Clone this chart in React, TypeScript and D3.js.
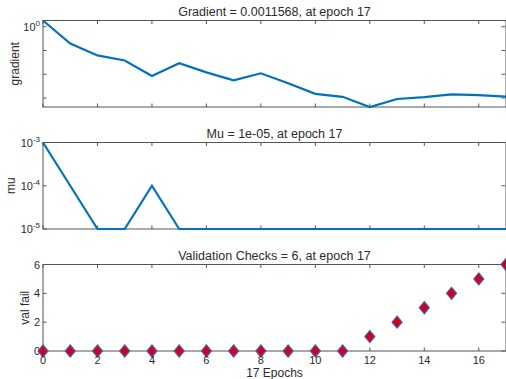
import React from 'react';
import * as d3 from 'd3';

// epochs 0..17
const epochs = d3.range(0, 18);
const gradientVals = [1.83, 0.196, 0.062, 0.038, 0.0085, 0.029, 0.012, 0.0056, 0.011, 0.0042,
  0.0015, 0.00113, 0.00042, 0.00091, 0.0011, 0.00143, 0.00133, 0.0011568];
const muVals = [1e-3, 1e-4, 1e-5, 1e-5, 1e-4, 1e-5, 1e-5, 1e-5, 1e-5, 1e-5,
  1e-5, 1e-5, 1e-5, 1e-5, 1e-5, 1e-5, 1e-5, 1e-5];
const valFail = [0, 0, 0, 0, 0, 0, 0, 0, 0, 0, 0, 0, 1, 2, 3, 4, 5, 6];
const xTicks = [0, 2, 4, 6, 8, 10, 12, 14, 16];
const gradTicks = [1, 0.1, 0.01, 0.001];
const muTicks = [1e-3, 1e-4, 1e-5];
const valTicks = [0, 2, 4, 6];

const W = 506;
const H = 379;
const left = 43;
const right = 506;
const font = '"Liberation Sans", Arial, sans-serif';
const textCol = '#2b2b2b';
const axisCol = '#555';
const blue = '#0072BD';

const x = d3.scaleLinear().domain([0, 17]).range([left, right]);

type Panel = { top: number; bottom: number };
const p1: Panel = { top: 20.5, bottom: 107 };
const p2: Panel = { top: 142.5, bottom: 229 };
const p3: Panel = { top: 264.5, bottom: 351 };

const Frame = ({ p, yTicks, y, title, ylabel, ylabelX, tickLabel }: any) => {
  const tl = 3.5;
  return (
    <g>
      <rect x={left} y={p.top} width={right - left} height={p.bottom - p.top} fill="white" stroke={axisCol} strokeWidth={1} />
      {xTicks.map((t) => (
        <g key={'x' + t}>
          <line x1={x(t)} x2={x(t)} y1={p.bottom} y2={p.bottom - tl} stroke={axisCol} />
          <line x1={x(t)} x2={x(t)} y1={p.top} y2={p.top + tl} stroke={axisCol} />
        </g>
      ))}
      {yTicks.map((t: number, i: number) => (
        <g key={'y' + i}>
          <line x1={left} x2={left + tl} y1={y(t)} y2={y(t)} stroke={axisCol} />
          <line x1={right - 1} x2={right - 1 - tl} y1={y(t)} y2={y(t)} stroke={axisCol} />
          {tickLabel(t, y(t))}
        </g>
      ))}
      <text x={(left + right) / 2} y={p.top - 5} textAnchor="middle" fontSize={12.5} fill={textCol} fontFamily={font}>{title}</text>
      <text transform={`translate(${ylabelX},${(p.top + p.bottom) / 2}) rotate(-90)`} textAnchor="middle"
        fontSize={12} fill={textCol} fontFamily={font}>{ylabel}</text>
    </g>
  );
};

const powLabel = (exp: string, yy: number) => (
  <text x={40} y={yy + 4} textAnchor="end" fontSize={11} fill={textCol} fontFamily={font}>
    10<tspan dy={-5} fontSize={8}>{exp}</tspan>
  </text>
);

export default function App() {
  const yG = d3.scaleLog().domain(d3.extent(gradientVals) as [number, number]).range([p1.bottom, p1.top]);
  const yM = d3.scaleLog().domain([1e-5, 1e-3]).range([p2.bottom, p2.top]);
  const yV = d3.scaleLinear().domain([0, 6]).range([p3.bottom, p3.top]);

  const gLine = d3.line<number>().x((_, i) => x(epochs[i])).y((d) => yG(d));
  const mLine = d3.line<number>().x((_, i) => x(epochs[i])).y((d) => yM(d));

  const diamond = (cx: number, cy: number) =>
    `M${cx},${cy - 6}L${cx + 5},${cy}L${cx},${cy + 6}L${cx - 5},${cy}Z`;

  return (
    <svg width={W} height={H} style={{ position: 'absolute', left: 0, top: 0, background: 'white' }}>
      <rect width={W} height={H} fill="white" />
      <Frame p={p1} yTicks={gradTicks} y={yG} title="Gradient = 0.0011568, at epoch 17" ylabel="gradient" ylabelX={19}
        tickLabel={(t: number, yy: number) => (t === 1 ? powLabel('0', yy) : null)} />
      <path d={gLine(gradientVals) || ''} fill="none" stroke={blue} strokeWidth={2.2} />

      <Frame p={p2} yTicks={muTicks} y={yM} title="Mu = 1e-05, at epoch 17" ylabel="mu" ylabelX={15}
        tickLabel={(t: number, yy: number) => powLabel(String(Math.round(Math.log10(t))), yy)} />
      <path d={mLine(muVals) || ''} fill="none" stroke={blue} strokeWidth={2.2} />

      <Frame p={p3} yTicks={valTicks} y={yV} title="Validation Checks = 6, at epoch 17" ylabel="val fail" ylabelX={29}
        tickLabel={(t: number, yy: number) => (
          <text x={40} y={yy + 4} textAnchor="end" fontSize={11} fill={textCol} fontFamily={font}>{t}</text>
        )} />
      {valFail.map((v, i) => (
        <path key={i} d={diamond(x(epochs[i]), yV(v))} fill="#d1001f" stroke="#4a58a8" strokeWidth={1.2} />
      ))}
      {xTicks.map((t) => (
        <text key={t} x={x(t)} y={364} textAnchor="middle" fontSize={11} fill={textCol} fontFamily={font}>{t}</text>
      ))}
      <text x={(left + right) / 2} y={377} textAnchor="middle" fontSize={12} fill={textCol} fontFamily={font}>17 Epochs</text>
    </svg>
  );
}
